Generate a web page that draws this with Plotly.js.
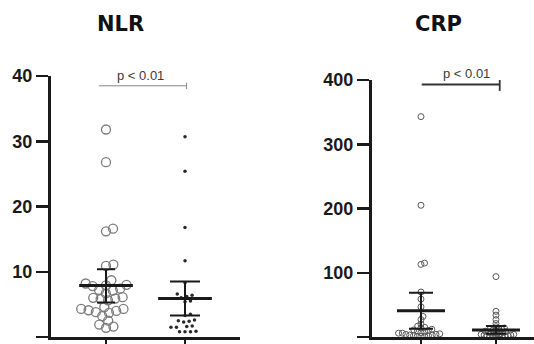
<!DOCTYPE html>
<html>
<head>
<meta charset="utf-8">
<script src="https://cdn.plot.ly/plotly-3.0.1.min.js"></script>
<style>html,body{margin:0;padding:0;background:#fff;}#chart{width:534px;height:344px;}</style>
</head>
<body>
<div id="chart"></div>
<script>
// ---- data ----
const panelTitles = ["NLR", "CRP"];
const pLabel = "p < 0.01";
const yTicksNLR = [0, 10, 20, 30, 40];
const yTicksCRP = [0, 100, 200, 300, 400];

const nlrGroup1 = [31.8, 26.8, 16.6, 16.2, 11.1, 10.9, 8.7, 8.2, 8.0, 7.9, 7.8, 7.4, 7.2, 7.1, 6.7, 6.1, 6.0, 5.9, 5.8, 5.6, 4.6, 4.3, 4.3, 4.1, 4.0, 3.8, 3.7, 3.2, 2.5, 1.9, 1.6, 1.4];
const nlrGroup2 = [30.7, 25.4, 16.8, 11.7, 8.3, 6.6, 6.4, 6.2, 6.0, 5.5, 5.4, 3.5, 3.3, 2.6, 2.5, 2.4, 2.3, 1.7, 1.6, 1.5, 1.5, 0.9, 0.8, 0.8, 0.8];
const crpGroup1 = [343, 205, 115, 113, 70, 59, 47, 32, 27, 20, 17, 15, 14, 12, 11, 10, 9, 8, 7, 6, 6, 5, 4, 4, 3, 3, 2, 2, 1, 1, 1];
const crpGroup2 = [94, 40, 34, 27, 21, 16, 14, 13, 12, 11, 10, 10, 9, 8, 8, 7, 6, 6, 5, 5, 4, 4, 3, 3, 2, 2, 2, 1, 1, 1, 0.5, 0.5];

const nlrMean = [7.9, 5.9];
const nlrUpper = [10.4, 8.5];
const nlrLower = [5.3, 3.3];
const crpMean = [41, 11];
const crpUpper = [69, 17];
const crpLower = [13, 5];

// ---- geometry (style) ----
const W = 534, H = 344;
const yBottomPx = 337;
const L = {x0: 51, x1: 240, top: 76, xr: [-0.696, 1.696], yr: [0, 40]};
const R = {x0: 372, x1: 534, top: 80, xr: [-0.653, 1.507], yr: [0, 400]};
function pxPerX(p){ return (p.x1 - p.x0) / (p.xr[1] - p.xr[0]); }
function pxPerY(p){ return (yBottomPx - p.top) / (p.yr[1] - p.yr[0]); }

// simple deterministic beeswarm: returns x offsets (data units)
function swarm(vals, dPx, panel){
  const kx = pxPerX(panel), ky = pxPerY(panel);
  const idx = vals.map((v,i)=>i).sort((a,b)=>vals[a]-vals[b]);
  const placed = [];
  const out = new Array(vals.length).fill(0);
  idx.forEach(i=>{
    const y = vals[i]*ky;
    const near = placed.filter(p=>Math.abs(p.y-y) < dPx);
    const cands = [0];
    near.forEach(p=>{
      const dx = Math.sqrt(dPx*dPx - (p.y-y)*(p.y-y));
      cands.push(p.x+dx, p.x-dx);
    });
    cands.sort((a,b)=>Math.abs(a)-Math.abs(b) || b-a);
    let xs = 0;
    for (const c of cands){
      const ok = near.every(p=>{
        const dx = Math.sqrt(dPx*dPx - (p.y-y)*(p.y-y));
        return Math.abs(c-p.x) >= dx - 1e-6;
      });
      if (ok){ xs = c; break; }
    }
    placed.push({x: xs, y: y});
    out[i] = xs / kx;
  });
  return out;
}

function pts(vals, center, dPx, panel, xa, ya, marker){
  const off = swarm(vals, dPx, panel);
  return {
    type: 'scatter', mode: 'markers', xaxis: xa, yaxis: ya,
    x: off.map(o=>center+o), y: vals, marker: marker,
    cliponaxis: false, hoverinfo: 'skip', showlegend: false
  };
}

function bars(means, ups, lows, xa, ya, halfW, capW){
  return means.map((m,i)=>({
    type: 'scatter', mode: 'markers', xaxis: xa, yaxis: ya,
    x: [i], y: [m], marker: {size: 1, opacity: 0},
    error_x: {type: 'constant', value: halfW, width: 0, thickness: 3, color: '#1a1a1a'},
    error_y: {type: 'data', symmetric: false, array: [ups[i]-m], arrayminus: [m-lows[i]],
              width: capW[i], thickness: 2, color: '#1a1a1a'},
    cliponaxis: false, hoverinfo: 'skip', showlegend: false
  }));
}

const openCircle = {symbol: 'circle-open', size: 9, color: '#7c7c7c', line: {width: 1.3, color: '#7c7c7c'}};
const dot = {symbol: 'circle', size: 3.5, color: '#2a2a2a'};
const crpOpen = {symbol: 'circle-open', size: 6, color: '#5a5a5a', line: {width: 1, color: '#5a5a5a'}};

const traces = [
  pts(nlrGroup1, 0, 7.5, L, 'x', 'y', openCircle),
  pts(nlrGroup2, 1, 5.5, L, 'x', 'y', dot),
  pts(crpGroup1, 0, 3.8, R, 'x2', 'y2', crpOpen),
  pts(crpGroup2, 1, 3.0, R, 'x2', 'y2', crpOpen),
  ...bars(nlrMean, nlrUpper, nlrLower, 'x', 'y', 0.34, [9, 15]),
  ...bars(crpMean, crpUpper, crpLower, 'x2', 'y2', 0.32, [12, 10])
];

const tickFont = {family: 'Liberation Sans, Arial, sans-serif', size: 18, color: '#1a1a1a', weight: 'bold'};
function yax(panel, ticks){
  return {
    domain: [(H - yBottomPx)/H, (H - panel.top)/H], range: panel.yr,
    tickvals: ticks, ticks: 'outside', ticklen: 12, tickwidth: 2.5, tickcolor: '#1a1a1a',
    showline: true, linewidth: 3, linecolor: '#1a1a1a', showgrid: false, zeroline: false,
    tickfont: tickFont, fixedrange: true
  };
}
function xax(panel, anchor){
  return {
    domain: [panel.x0/W, panel.x1/W], range: panel.xr, anchor: anchor,
    tickvals: [0, 1], showticklabels: false, ticks: 'outside', ticklen: 8, tickwidth: 2.5, tickcolor: '#1a1a1a',
    showline: true, linewidth: 3, linecolor: '#1a1a1a', showgrid: false, zeroline: false, fixedrange: true
  };
}

const titleFont = {family: 'DejaVu Sans, Verdana, sans-serif', size: 21, color: '#111', weight: 'bold'};
const pFont = {family: 'Liberation Sans, Arial, sans-serif', size: 13, color: '#3a3a3a'};

const layout = {
  width: W, height: H, margin: {l: 0, r: 0, t: 0, b: 0},
  paper_bgcolor: '#fff', plot_bgcolor: '#fff', showlegend: false,
  xaxis: xax(L, 'y'), yaxis: yax(L, yTicksNLR),
  xaxis2: xax(R, 'y2'), yaxis2: Object.assign(yax(R, yTicksCRP), {anchor: 'x2'}),
  annotations: [
    {text: panelTitles[0], xref: 'paper', yref: 'paper', x: 120/W, y: 1 - 24/H, showarrow: false, font: titleFont, xanchor: 'center', yanchor: 'middle'},
    {text: panelTitles[1], xref: 'paper', yref: 'paper', x: 438/W, y: 1 - 24/H, showarrow: false, font: titleFont, xanchor: 'center', yanchor: 'middle'},
    {text: pLabel, xref: 'x', yref: 'paper', x: 0.44, y: 1 - 76/H, showarrow: false, font: pFont, xanchor: 'center', yanchor: 'middle'},
    {text: pLabel, xref: 'x2', yref: 'paper', x: 0.61, y: 1 - 74/H, showarrow: false, font: pFont, xanchor: 'center', yanchor: 'middle'}
  ],
  shapes: [
    {type: 'line', xref: 'x', yref: 'y', x0: -0.09, x1: 1.02, y0: 38.5, y1: 38.5, line: {color: '#888', width: 1}},
    {type: 'line', xref: 'x', yref: 'y', x0: 1.02, x1: 1.02, y0: 38.0, y1: 39.0, line: {color: '#888', width: 1}},
    {type: 'line', xref: 'x2', yref: 'y2', x0: 0.01, x1: 1.05, y0: 393, y1: 393, line: {color: '#333', width: 1.8}},
    {type: 'line', xref: 'x2', yref: 'y2', x0: 1.05, x1: 1.05, y0: 383, y1: 400, line: {color: '#333', width: 1.8}}
  ]
};

Plotly.newPlot('chart', traces, layout, {staticPlot: true, displayModeBar: false});
</script>
</body>
</html>
